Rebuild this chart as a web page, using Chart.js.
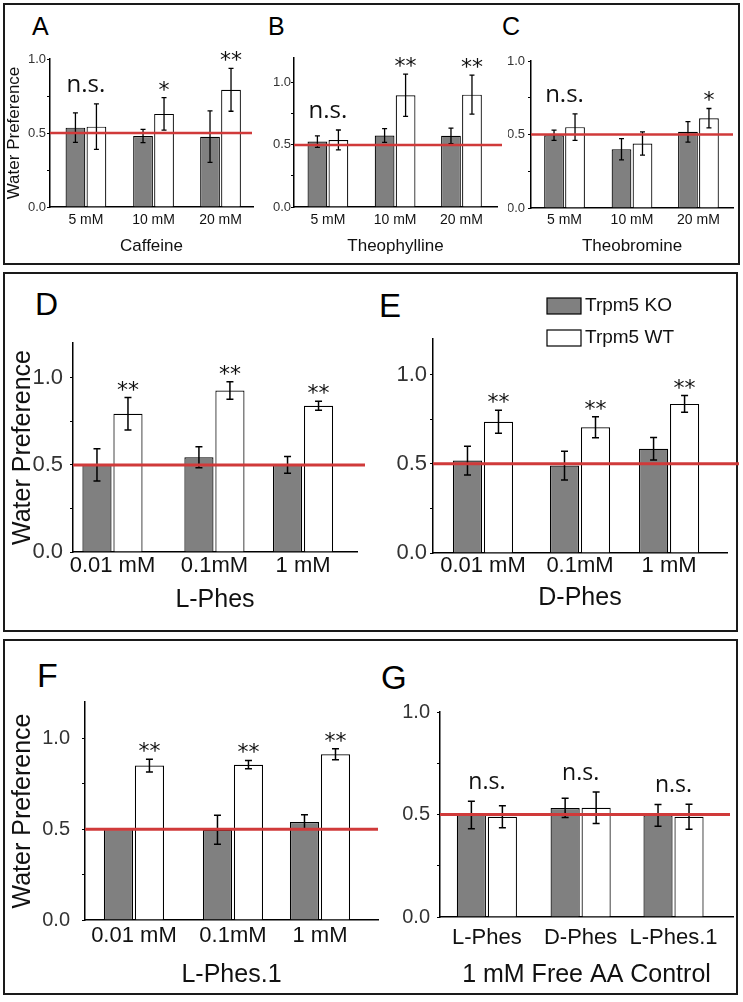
<!DOCTYPE html>
<html>
<head>
<meta charset="utf-8">
<script src="https://cdn.jsdelivr.net/npm/chart.js@4.4.1/dist/chart.umd.min.js"></script>
<style>
  html, body { margin: 0; padding: 0; background: #fff; overflow: hidden; }
  #fig { position: relative; width: 743px; height: 1002px; }
  .box { position: absolute; border: 2px solid #1a1a1a; box-sizing: border-box; }
  .letter { position: absolute; font-family: "Liberation Sans", Arial, sans-serif; line-height: 1; color: #000; }
  canvas { position: absolute; }
</style>
</head>
<body>
<div id="fig">
  <div class="box" style="left:3px;top:3px;width:737px;height:262px"></div>
  <div class="box" style="left:3px;top:272px;width:735px;height:360px"></div>
  <div class="box" style="left:3px;top:639px;width:735px;height:356px"></div>

  <div class="letter" style="left:32px;top:14px;font-size:25px">A</div>
  <div class="letter" style="left:268px;top:14px;font-size:25px">B</div>
  <div class="letter" style="left:502px;top:14px;font-size:25px">C</div>
  <div class="letter" style="left:35px;top:288px;font-size:32px">D</div>
  <div class="letter" style="left:379px;top:289px;font-size:33px">E</div>
  <div class="letter" style="left:37px;top:658px;font-size:34px">F</div>
  <div class="letter" style="left:381px;top:661px;font-size:33px">G</div>
</div>

<script>
Chart.defaults.font.family = '"Liberation Sans", Arial, sans-serif';
Chart.defaults.color = '#222';

// categories
const doseLabels = ['5 mM', '10 mM', '20 mM'];
const pheLabels = ['0.01 mM', '0.1mM', '1 mM'];
const aaLabels = ['L-Phes', 'D-Phes', 'L-Phes.1'];
const seriesNames = ['Trpm5 KO', 'Trpm5 WT'];
const yTickValues = [0, 0.25, 0.5, 0.75, 1.0];
const yTickText = ['0.0', '', '0.5', '', '1.0'];
const chanceLevel = 0.5;

// A - Caffeine
const caffeineKO = [0.536, 0.48, 0.475];
const caffeineKOErr = [0.10, 0.045, 0.174];
const caffeineWT = [0.543, 0.629, 0.792];
const caffeineWTErr = [0.154, 0.11, 0.145];
const caffeineSig = ['n.s.', '*', '**'];

// B - Theophylline
const theophKO = [0.527, 0.576, 0.573];
const theophKOErr = [0.046, 0.056, 0.062];
const theophWT = [0.54, 0.90, 0.905];
const theophWTErr = [0.08, 0.17, 0.157];
const theophSig = ['n.s.', '**', '**'];

// C - Theobromine
const theobKO = [0.495, 0.40, 0.518];
const theobKOErr = [0.035, 0.072, 0.07];
const theobWT = [0.55, 0.439, 0.611];
const theobWTErr = [0.09, 0.079, 0.066];
const theobSig = ['n.s.', '', '*'];

// D - L-Phes
const lphesKO = [0.50, 0.544, 0.50];
const lphesKOErr = [0.093, 0.06, 0.048];
const lphesWT = [0.794, 0.927, 0.84];
const lphesWTErr = [0.093, 0.05, 0.026];
const lphesSig = ['**', '**', '**'];

// E - D-Phes
const dphesKO = [0.518, 0.49, 0.585];
const dphesKOErr = [0.081, 0.08, 0.063];
const dphesWT = [0.736, 0.705, 0.836];
const dphesWTErr = [0.064, 0.059, 0.047];
const dphesSig = ['**', '**', '**'];

// F - L-Phes.1
const lphes1KO = [0.50, 0.497, 0.539];
const lphes1KOErr = [0, 0.08, 0.04];
const lphes1WT = [0.85, 0.855, 0.912];
const lphes1WTErr = [0.035, 0.023, 0.03];
const lphes1Sig = ['**', '**', '**'];

// G - 1 mM free AA control
const controlKO = [0.498, 0.532, 0.496];
const controlKOErr = [0.067, 0.047, 0.053];
const controlWT = [0.489, 0.533, 0.489];
const controlWTErr = [0.054, 0.077, 0.061];
const controlSig = ['n.s.', 'n.s.', 'n.s.'];

// row styles
const smallRow = { tick: 13, cat: 14, title: 17, yTitle: 17, pairW: 42, cap: 5, errW: 1.3, red: 2.5, ns: 24, star: 22, padTop: 30 };
const bigRow = { tick: 22, cat: 22, title: 25, yTitle: 25, pairW: 62, cap: 7, errW: 1.5, red: 3, ns: 23, star: 22, padTop: 50 };

const panels = [
  { title: 'Caffeine', yTitle: 'Water Preference', labels: doseLabels, ko: caffeineKO, koErr: caffeineKOErr, wt: caffeineWT, wtErr: caffeineWTErr, sig: caffeineSig,
    st: smallRow, lay: { axL: 50, axR: 253, yTop: 59, y0: 207, max: 1.0, slots: [0.177, 0.51, 0.84], yw: 46, xh: 50, labPad: 5, titlePad: 0, tickPad: 1, redExt: -1 } },
  { title: 'Theophylline', labels: doseLabels, ko: theophKO, koErr: theophKOErr, wt: theophWT, wtErr: theophWTErr, sig: theophSig,
    st: smallRow, lay: { axL: 294, axR: 497, yTop: 58, y0: 207, max: 1.2, slots: [0.167, 0.498, 0.825], yw: 36, xh: 50, labPad: 5, titlePad: 0, tickPad: 0, redExt: 5 } },
  { title: 'Theobromine', labels: doseLabels, ko: theobKO, koErr: theobKOErr, wt: theobWT, wtErr: theobWTErr, sig: theobSig,
    st: smallRow, lay: { axL: 531, axR: 733, yTop: 61, y0: 208, max: 1.0, slots: [0.166, 0.5, 0.829], yw: 23, xh: 49, labPad: 4, titlePad: 0, tickPad: 3, redExt: 0 } },
  { title: 'L-Phes', yTitle: 'Water Preference', labels: pheLabels, ko: lphesKO, koErr: lphesKOErr, wt: lphesWT, wtErr: lphesWTErr, sig: lphesSig,
    st: bigRow, lay: { axL: 73, axR: 357, yTop: 343, y0: 552, max: 1.2, slots: [0.139, 0.498, 0.81], yw: 65, xh: 70, labPad: 1, titlePad: 7, tickPad: 7, redExt: 8 } },
  { title: 'D-Phes', labels: pheLabels, ko: dphesKO, koErr: dphesKOErr, wt: dphesWT, wtErr: dphesWTErr, sig: dphesSig, legend: true,
    st: bigRow, lay: { axL: 433, axR: 727, yTop: 339, y0: 553, max: 1.2, slots: [0.17, 0.5, 0.803], yw: 48, xh: 69, labPad: 0, titlePad: 9, tickPad: 3, redExt: 12 } },
  { title: 'L-Phes.1', yTitle: 'Water Preference', labels: pheLabels, ko: lphes1KO, koErr: lphes1KOErr, wt: lphes1WT, wtErr: lphes1WTErr, sig: lphes1Sig,
    st: bigRow, lay: { axL: 85, axR: 378, yTop: 702, y0: 920, max: 1.2, slots: [0.167, 0.505, 0.802], yw: 77, xh: 70, labPad: 3, titlePad: 0, tickPad: 12, redExt: 0, tick: 20 } },
  { title: '1 mM Free AA Control', labels: aaLabels, ko: controlKO, koErr: controlKOErr, wt: controlWT, wtErr: controlWTErr, sig: controlSig,
    st: bigRow, lay: { axL: 440, axR: 733, yTop: 712, y0: 917, max: 1.0, slots: [0.16, 0.48, 0.797], yw: 45, xh: 73, labPad: 8, titlePad: 0, tickPad: 7, redExt: -3, tick: 20 } }
];

// error bars, chance line, significance marks, legend
const panelDecor = {
  id: 'panelDecor',
  afterDatasetsDraw(chart, args, opts) {
    const ctx = chart.ctx;
    const y = chart.scales.y;
    const area = chart.chartArea;
    ctx.save();
    ctx.strokeStyle = '#000';
    ctx.lineWidth = opts.errW;
    chart.data.datasets.forEach((ds, di) => {
      chart.getDatasetMeta(di).data.forEach((bar, i) => {
        const e = ds.errors[i];
        if (!e) return;
        const v = ds.data[i].y;
        const yt = y.getPixelForValue(v + e);
        const yb = y.getPixelForValue(v - e);
        const h = opts.cap / 2;
        ctx.beginPath();
        ctx.moveTo(bar.x, yt); ctx.lineTo(bar.x, yb);
        ctx.moveTo(bar.x - h, yt); ctx.lineTo(bar.x + h, yt);
        ctx.moveTo(bar.x - h, yb); ctx.lineTo(bar.x + h, yb);
        ctx.stroke();
      });
    });
    const yc = y.getPixelForValue(chanceLevel);
    ctx.strokeStyle = 'rgb(208,58,58)';
    ctx.lineWidth = opts.red;
    ctx.beginPath();
    ctx.moveTo(area.left, yc);
    ctx.lineTo(area.right + opts.redExt, yc);
    ctx.stroke();
    ctx.restore();
  },
  afterDraw(chart, args, opts) {
    const ctx = chart.ctx;
    const y = chart.scales.y;
    const [dsK, dsW] = chart.data.datasets;
    const mK = chart.getDatasetMeta(0), mW = chart.getDatasetMeta(1);
    ctx.save();
    ctx.fillStyle = '#111';
    ctx.textAlign = 'center';
    ctx.textBaseline = 'alphabetic';
    opts.sig.forEach((s, i) => {
      if (!s) return;
      const topK = dsK.data[i].y + dsK.errors[i];
      const topW = dsW.data[i].y + dsW.errors[i];
      if (s === 'n.s.') {
        ctx.font = opts.ns + 'px "Open Sans", sans-serif';
        const x = (mK.data[i].x + mW.data[i].x) / 2;
        ctx.fillText(s, x, y.getPixelForValue(Math.max(topK, topW)) - 12);
      } else {
        ctx.font = opts.star + 'px "DejaVu Sans", sans-serif';
        ctx.fillText(s, mW.data[i].x, y.getPixelForValue(topW) - 1);
      }
    });
    if (opts.legend) {
      const a = chart.chartArea;
      const lx = a.left + 114;
      [[dsK, -41], [dsW, -9]].forEach(([ds, dy]) => {
        const ly = a.top + dy;
        ctx.fillStyle = ds.backgroundColor;
        ctx.fillRect(lx, ly, 34, 16);
        ctx.strokeStyle = '#000';
        ctx.lineWidth = 1.2;
        ctx.strokeRect(lx, ly, 34, 16);
        ctx.fillStyle = '#111';
        ctx.font = '19px "Liberation Sans", Arial, sans-serif';
        ctx.textAlign = 'left';
        ctx.textBaseline = 'middle';
        ctx.fillText(ds.label, lx + 38, ly + 8);
      });
    }
    ctx.restore();
  }
};

const fig = document.getElementById('fig');

panels.forEach(p => {
  const L = p.lay, st = p.st;
  const padRight = 14;
  const canvas = document.createElement('canvas');
  const w = L.yw + (L.axR - L.axL) + padRight;
  const h = st.padTop + (L.y0 - L.yTop) + L.xh;
  canvas.width = w;
  canvas.height = h;
  canvas.style.left = (L.axL - L.yw) + 'px';
  canvas.style.top = (L.yTop - st.padTop) + 'px';
  canvas.style.width = w + 'px';
  canvas.style.height = h + 'px';
  fig.appendChild(canvas);

  let minGap = 1;
  for (let i = 1; i < L.slots.length; i++) minGap = Math.min(minGap, L.slots[i] - L.slots[i - 1]);
  const catPct = st.pairW / (minGap * (L.axR - L.axL));

  const makeSet = (name, vals, errs, fill) => ({
    label: name,
    data: L.slots.map((s, i) => ({ x: s, y: vals[i] })),
    errors: errs,
    backgroundColor: fill,
    borderColor: '#000',
    borderWidth: 1.2,
    categoryPercentage: catPct,
    barPercentage: 0.94
  });

  new Chart(canvas.getContext('2d'), {
    type: 'bar',
    data: {
      datasets: [
        makeSet(seriesNames[0], p.ko, p.koErr, '#808080'),
        makeSet(seriesNames[1], p.wt, p.wtErr, '#ffffff')
      ]
    },
    options: {
      responsive: false,
      animation: false,
      layout: { padding: { left: 0, top: st.padTop, right: padRight, bottom: 0 } },
      plugins: {
        legend: { display: false },
        tooltip: { enabled: false },
        panelDecor: { sig: p.sig, errW: st.errW, cap: st.cap, red: st.red, redExt: L.redExt, ns: st.ns, star: st.star, legend: !!p.legend }
      },
      scales: {
        x: {
          type: 'linear',
          min: 0,
          max: 1,
          offset: false,
          grid: { display: false, drawTicks: false },
          border: { display: true, color: '#000', width: 1.5 },
          afterBuildTicks: s => { s.ticks = L.slots.map(v => ({ value: v })); },
          afterFit: s => { s.height = L.xh; },
          ticks: {
            autoSkip: false,
            maxRotation: 0,
            padding: L.labPad,
            color: '#111',
            font: { size: st.cat },
            callback: (v, i) => p.labels[i]
          },
          title: { display: true, text: p.title, color: '#111', font: { size: st.title }, padding: { top: 0, bottom: L.titlePad } }
        },
        y: {
          min: 0,
          max: L.max,
          grid: { drawOnChartArea: false, drawTicks: true, tickLength: 3, color: '#000' },
          border: { display: true, color: '#000', width: 1.5 },
          afterBuildTicks: s => { s.ticks = yTickValues.map(v => ({ value: v })); },
          afterFit: s => { s.width = L.yw; },
          ticks: {
            padding: L.tickPad,
            color: '#333',
            font: { size: L.tick || st.tick },
            callback: (v, i) => yTickText[i]
          },
          title: { display: !!p.yTitle, text: p.yTitle || '', color: '#111', font: { size: st.yTitle }, padding: 0 }
        }
      }
    },
    plugins: [panelDecor]
  });
});
</script>
</body>
</html>
